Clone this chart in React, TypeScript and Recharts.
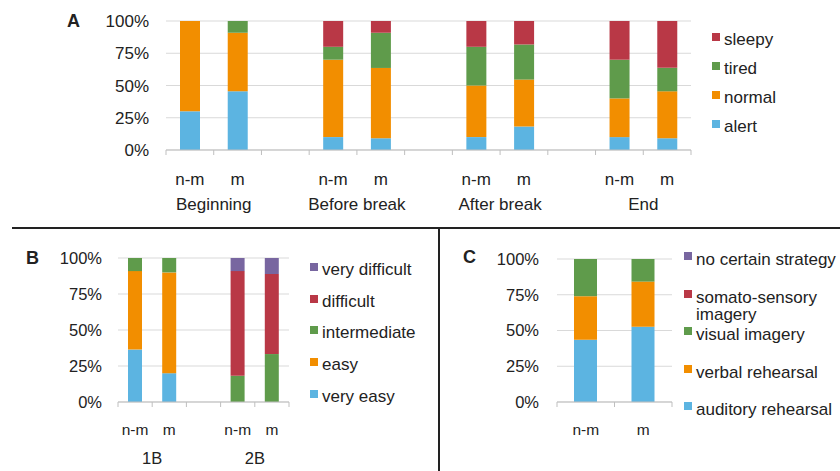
import { Bar, BarChart, CartesianGrid, Legend, XAxis, YAxis } from 'recharts';

const FONT = '"Liberation Sans", Arial, sans-serif';
const INK = '#222';
const GRID = '#d9d9d9';
const AXIS_LINE = '#bfbfbf';

const BLUE = '#5cb4e1';
const ORANGE = '#f28e00';
const GREEN = '#5f9b4b';
const RED = '#b93846';
const PURPLE = '#7866a0';

const Y_TICKS = [0, 25, 50, 75, 100];

// --- A: alertness per session ---
const A_CATS = ['n-m', 'm', '', 'n-m', 'm', '', 'n-m', 'm', '', 'n-m', 'm'];
const A_GROUPS = ['Beginning', 'Before break', 'After break', 'End'];
const A_ALERT = [30, 45.5, 0, 10, 9.1, 0, 10, 18.2, 0, 10, 9.1];
const A_NORMAL = [70, 45.4, 0, 60, 54.5, 0, 40, 36.4, 0, 30, 36.4];
const A_TIRED = [0, 9.1, 0, 10, 27.3, 0, 30, 27.2, 0, 30, 18.2];
const A_SLEEPY = [0, 0, 0, 20, 9.1, 0, 20, 18.2, 0, 30, 36.3];

// --- B: difficulty ---
const B_CATS = ['n-m', 'm', '', 'n-m', 'm'];
const B_GROUPS = ['1B', '2B'];
const B_VERY_EASY = [36.4, 20, 0, 0, 0];
const B_EASY = [54.5, 70, 0, 0, 0];
const B_INTERMEDIATE = [9.1, 10, 0, 18.2, 33.3];
const B_DIFFICULT = [0, 0, 0, 72.7, 55.6];
const B_VERY_DIFFICULT = [0, 0, 0, 9.1, 11.1];

// --- C: strategy ---
const C_CATS = ['n-m', 'm'];
const C_AUDITORY = [43.5, 52.6];
const C_VERBAL = [30.5, 31.6];
const C_VISUAL = [26, 15.8];
const C_SOMATO = [0, 0];
const C_NONE = [0, 0];

type Series = { key: string; name: string; values: number[]; color: string };

const A_SERIES: Series[] = [
  { key: 'alert', name: 'alert', values: A_ALERT, color: BLUE },
  { key: 'normal', name: 'normal', values: A_NORMAL, color: ORANGE },
  { key: 'tired', name: 'tired', values: A_TIRED, color: GREEN },
  { key: 'sleepy', name: 'sleepy', values: A_SLEEPY, color: RED },
];

const B_SERIES: Series[] = [
  { key: 've', name: 'very easy', values: B_VERY_EASY, color: BLUE },
  { key: 'easy', name: 'easy', values: B_EASY, color: ORANGE },
  { key: 'mid', name: 'intermediate', values: B_INTERMEDIATE, color: GREEN },
  { key: 'diff', name: 'difficult', values: B_DIFFICULT, color: RED },
  { key: 'vd', name: 'very difficult', values: B_VERY_DIFFICULT, color: PURPLE },
];

const C_SERIES: Series[] = [
  { key: 'aud', name: 'auditory rehearsal', values: C_AUDITORY, color: BLUE },
  { key: 'verb', name: 'verbal rehearsal', values: C_VERBAL, color: ORANGE },
  { key: 'vis', name: 'visual imagery', values: C_VISUAL, color: GREEN },
  { key: 'som', name: 'somato-sensory imagery', values: C_SOMATO, color: RED },
  { key: 'none', name: 'no certain strategy', values: C_NONE, color: PURPLE },
];

function toRows(cats: string[], series: Series[]) {
  return cats.map((cat, i) => {
    const row: Record<string, string | number> = { cat };
    series.forEach((s) => (row[s.key] = s.values[i]));
    return row;
  });
}

const pct = (v: number) => `${v}%`;

// category label + Excel-style tick marks between categories
function CatTick(props: any) {
  const { x, y, index, cats, groups, bw, labelDy, groupDy, fontSize, groupSize } = props;
  const half = bw / 2;
  const label = cats[index];
  return (
    <g>
      <line x1={x - half} x2={x - half} y1={y} y2={y + 5} stroke={AXIS_LINE} />
      {index === cats.length - 1 && (
        <line x1={x + half} x2={x + half} y1={y} y2={y + 5} stroke={AXIS_LINE} />
      )}
      {label && (
        <text x={x} y={y + labelDy} textAnchor="middle" fontSize={fontSize} fill={INK} fontFamily={FONT}>
          {label}
        </text>
      )}
      {groups && label === 'm' && (
        <text
          x={x - half}
          y={y + groupDy}
          textAnchor="middle"
          fontSize={groupSize ?? fontSize}
          fill={INK}
          fontFamily={FONT}
        >
          {groups[Math.floor(index / 3)]}
        </text>
      )}
    </g>
  );
}

function Swatch({ color }: { color: string }) {
  return (
    <span
      style={{
        display: 'inline-block',
        width: 8,
        height: 8,
        background: color,
        marginRight: 4,
        position: 'relative',
        top: -3,
        flex: 'none',
      }}
    />
  );
}

function RowLegend({ series, rowH }: { series: Series[]; rowH: number }) {
  return (
    <div style={{ fontFamily: FONT, fontSize: 17, color: INK }}>
      {[...series].reverse().map((s) => (
        <div key={s.key} style={{ height: rowH, display: 'flex', alignItems: 'center', whiteSpace: 'nowrap' }}>
          <Swatch color={s.color} />
          {s.name}
        </div>
      ))}
    </div>
  );
}

// first-line centres of the C legend entries, top to bottom
const C_LEGEND_Y = [31, 69, 106, 144, 181];

function StrategyLegend() {
  const items = [...C_SERIES].reverse();
  return (
    <div style={{ position: 'relative', width: 156, height: 200, fontFamily: FONT, fontSize: 17, color: INK }}>
      {items.map((s, i) => (
        <div
          key={s.key}
          style={{ position: 'absolute', left: 0, top: C_LEGEND_Y[i] - 8.5, display: 'flex', lineHeight: '17px' }}
        >
          <span style={{ height: 17, display: 'flex', alignItems: 'center', flex: 'none' }}>
            <Swatch color={s.color} />
          </span>
          <span style={{ width: 148 }}>{s.name}</span>
        </div>
      ))}
    </div>
  );
}

function Letter({ ch, left, top }: { ch: string; left: number; top: number }) {
  return (
    <div style={{ position: 'absolute', left, top, fontFamily: FONT, fontWeight: 700, fontSize: 18, color: INK }}>
      {ch}
    </div>
  );
}

function PanelA() {
  const plotW = 691 - 166;
  return (
    <BarChart
      width={840}
      height={228}
      data={toRows(A_CATS, A_SERIES)}
      margin={{ top: 21, right: 149, bottom: 0, left: 0 }}
      barSize={20}
    >
      <CartesianGrid vertical={false} stroke={GRID} />
      <XAxis
        dataKey="cat"
        interval={0}
        height={78}
        stroke={AXIS_LINE}
        tickLine={false}
        tickSize={0}
        tickMargin={0}
        tick={<CatTick cats={A_CATS} groups={A_GROUPS} bw={plotW / A_CATS.length} labelDy={35} groupDy={60} fontSize={17} />}
      />
      <YAxis
        width={166}
        domain={[0, 100]}
        ticks={Y_TICKS}
        tickFormatter={pct}
        axisLine={false}
        tickLine={false}
        tickSize={0}
        tickMargin={17}
        tick={{ fill: INK, fontSize: 17, fontFamily: FONT }}
      />
      {A_SERIES.map((s) => (
        <Bar key={s.key} dataKey={s.key} name={s.name} stackId="a" fill={s.color} isAnimationActive={false} />
      ))}
      <Legend
        layout="vertical"
        align="center"
        verticalAlign="middle"
        wrapperStyle={{ left: 712, top: 25, width: 110 }}
        content={() => <RowLegend series={A_SERIES} rowH={29} />}
      />
    </BarChart>
  );
}

function PanelB() {
  const plotW = 289 - 118;
  return (
    <BarChart
      width={440}
      height={243}
      data={toRows(B_CATS, B_SERIES)}
      margin={{ top: 30, right: 151, bottom: 0, left: 0 }}
      barSize={14}
    >
      <CartesianGrid vertical={false} stroke={GRID} />
      <XAxis
        dataKey="cat"
        interval={0}
        height={69}
        stroke={AXIS_LINE}
        tickLine={false}
        tickSize={0}
        tickMargin={0}
        tick={
          <CatTick
            cats={B_CATS}
            groups={B_GROUPS}
            bw={plotW / B_CATS.length}
            labelDy={33}
            groupDy={62}
            fontSize={15.5}
            groupSize={16.5}
          />
        }
      />
      <YAxis
        width={118}
        domain={[0, 100]}
        ticks={Y_TICKS}
        tickFormatter={pct}
        axisLine={false}
        tickLine={false}
        tickSize={0}
        tickMargin={16}
        tick={{ fill: INK, fontSize: 16.5, fontFamily: FONT }}
      />
      {B_SERIES.map((s) => (
        <Bar key={s.key} dataKey={s.key} name={s.name} stackId="b" fill={s.color} isAnimationActive={false} />
      ))}
      <Legend
        layout="vertical"
        align="center"
        verticalAlign="middle"
        wrapperStyle={{ left: 310, top: 26, width: 130 }}
        content={() => <RowLegend series={B_SERIES} rowH={31.7} />}
      />
    </BarChart>
  );
}

function PanelC() {
  const plotW = 672 - 557;
  return (
    <BarChart
      width={400}
      height={243}
      data={toRows(C_CATS, C_SERIES)}
      margin={{ top: 31, right: 168, bottom: 0, left: 0 }}
      barSize={23}
    >
      <CartesianGrid vertical={false} stroke={GRID} />
      <XAxis
        dataKey="cat"
        interval={0}
        height={69}
        stroke={AXIS_LINE}
        tickLine={false}
        tickSize={0}
        tickMargin={0}
        tick={<CatTick cats={C_CATS} bw={plotW / C_CATS.length} labelDy={33} groupDy={0} fontSize={15.5} />}
      />
      <YAxis
        width={117}
        domain={[0, 100]}
        ticks={Y_TICKS}
        tickFormatter={pct}
        axisLine={false}
        tickLine={false}
        tickSize={0}
        tickMargin={18}
        tick={{ fill: INK, fontSize: 16.5, fontFamily: FONT }}
      />
      {C_SERIES.map((s) => (
        <Bar key={s.key} dataKey={s.key} name={s.name} stackId="c" fill={s.color} isAnimationActive={false} />
      ))}
      <Legend
        layout="vertical"
        align="center"
        verticalAlign="middle"
        wrapperStyle={{ left: 244, top: 0, width: 156 }}
        content={() => <StrategyLegend />}
      />
    </BarChart>
  );
}

export default function App() {
  return (
    <div
      style={{
        position: 'absolute',
        left: 0,
        top: 0,
        width: 840,
        height: 471,
        background: '#fff',
        overflow: 'hidden',
        fontFamily: FONT,
      }}
    >
      <div style={{ position: 'absolute', left: 0, top: 0 }}>
        <PanelA />
      </div>
      <div style={{ position: 'absolute', left: 0, top: 228 }}>
        <PanelB />
      </div>
      <div style={{ position: 'absolute', left: 440, top: 228 }}>
        <PanelC />
      </div>
      <div style={{ position: 'absolute', left: 12, top: 227, width: 828, height: 2, background: INK }} />
      <div style={{ position: 'absolute', left: 438, top: 228, width: 2, height: 243, background: INK }} />
      <Letter ch="A" left={67} top={11} />
      <Letter ch="B" left={26} top={248} />
      <Letter ch="C" left={463} top={247} />
    </div>
  );
}
